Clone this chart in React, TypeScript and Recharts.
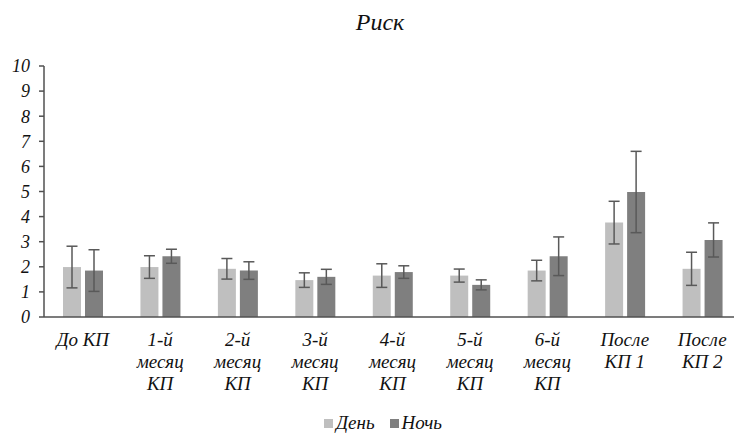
import { BarChart, Bar, XAxis, YAxis, ErrorBar, Legend } from "recharts";

const categories = [
  "До КП",
  "1-й\nмесяц\nКП",
  "2-й\nмесяц\nКП",
  "3-й\nмесяц\nКП",
  "4-й\nмесяц\nКП",
  "5-й\nмесяц\nКП",
  "6-й\nмесяц\nКП",
  "После\nКП 1",
  "После\nКП 2",
];
const dayValues = [1.99, 1.99, 1.92, 1.47, 1.65, 1.65, 1.85, 3.76, 1.92];
const dayErrors = [0.83, 0.45, 0.41, 0.29, 0.47, 0.26, 0.41, 0.85, 0.66];
const nightValues = [1.85, 2.42, 1.85, 1.6, 1.79, 1.28, 2.42, 4.98, 3.07];
const nightErrors = [0.83, 0.28, 0.35, 0.3, 0.25, 0.2, 0.77, 1.62, 0.68];
const yTicks = [0, 1, 2, 3, 4, 5, 6, 7, 8, 9, 10];

const seriesNames = { day: "День", night: "Ночь" };
const colors = { day: "#bfbfbf", night: "#7f7f7f", err: "#595959", axis: "#505050", text: "#111" };
const serif = '"Liberation Serif", "Times New Roman", serif';

const data = categories.map((c, i) => ({
  name: c,
  day: dayValues[i],
  dayErr: dayErrors[i],
  night: nightValues[i],
  nightErr: nightErrors[i],
}));

function CategoryTick({ x, y, payload }: { x?: number; y?: number; payload?: { value: string } }) {
  const lines = String(payload?.value ?? "").split("\n");
  return (
    <text x={x} y={y} textAnchor="middle" fontFamily={serif} fontStyle="italic" fontSize={19} fill={colors.text}>
      {lines.map((ln, i) => (
        <tspan key={i} x={x} dy={i === 0 ? 21 : 22}>
          {ln}
        </tspan>
      ))}
    </text>
  );
}

function LegendBox() {
  const items = [
    { label: seriesNames.day, color: colors.day },
    { label: seriesNames.night, color: colors.night },
  ];
  return (
    <div style={{ display: "flex", justifyContent: "center", gap: 15, fontFamily: serif, fontStyle: "italic", fontSize: 19, color: colors.text }}>
      {items.map((it) => (
        <span key={it.label} style={{ display: "inline-flex", alignItems: "center" }}>
          <span style={{ width: 9, height: 9, background: it.color, marginRight: 3, display: "inline-block" }} />
          {it.label}
        </span>
      ))}
    </div>
  );
}

export default function App() {
  return (
    <div style={{ position: "absolute", left: 0, top: 0, width: 734, height: 433, overflow: "hidden", background: "#fff" }}>
      <div
        style={{
          position: "absolute",
          left: 0,
          width: 760,
          top: 9,
          textAlign: "center",
          fontFamily: serif,
          fontStyle: "italic",
          fontSize: 24,
          color: colors.text,
        }}
      >
        Риск
      </div>
      <BarChart width={742} height={433} data={data} margin={{ top: 66, right: 1, bottom: 20, left: 0 }} barSize={18} barGap={4}>
        <XAxis
          dataKey="name"
          height={96}
          interval={0}
          tickLine={false}
          axisLine={{ stroke: colors.axis, strokeWidth: 1.5 }}
          tick={<CategoryTick />}
        />
        <YAxis
          domain={[0, 10]}
          ticks={yTicks}
          width={44}
          interval={0}
          tickSize={5}
          tickMargin={9}
          tickLine={{ stroke: colors.axis, strokeWidth: 1.5 }}
          axisLine={{ stroke: colors.axis, strokeWidth: 1.5 }}
          tick={{ fontFamily: serif, fontStyle: "italic", fontSize: 18, fill: colors.text }}
        />
        <Legend
          layout="horizontal"
          verticalAlign="middle"
          align="center"
          wrapperStyle={{ top: 412, left: 20, width: 726 }}
          content={<LegendBox />}
        />
        <Bar dataKey="day" name={seriesNames.day} fill={colors.day} isAnimationActive={false}>
          <ErrorBar dataKey="dayErr" width={5.5} stroke={colors.err} strokeWidth={1.5} />
        </Bar>
        <Bar dataKey="night" name={seriesNames.night} fill={colors.night} isAnimationActive={false}>
          <ErrorBar dataKey="nightErr" width={5.5} stroke={colors.err} strokeWidth={1.5} />
        </Bar>
      </BarChart>
    </div>
  );
}
